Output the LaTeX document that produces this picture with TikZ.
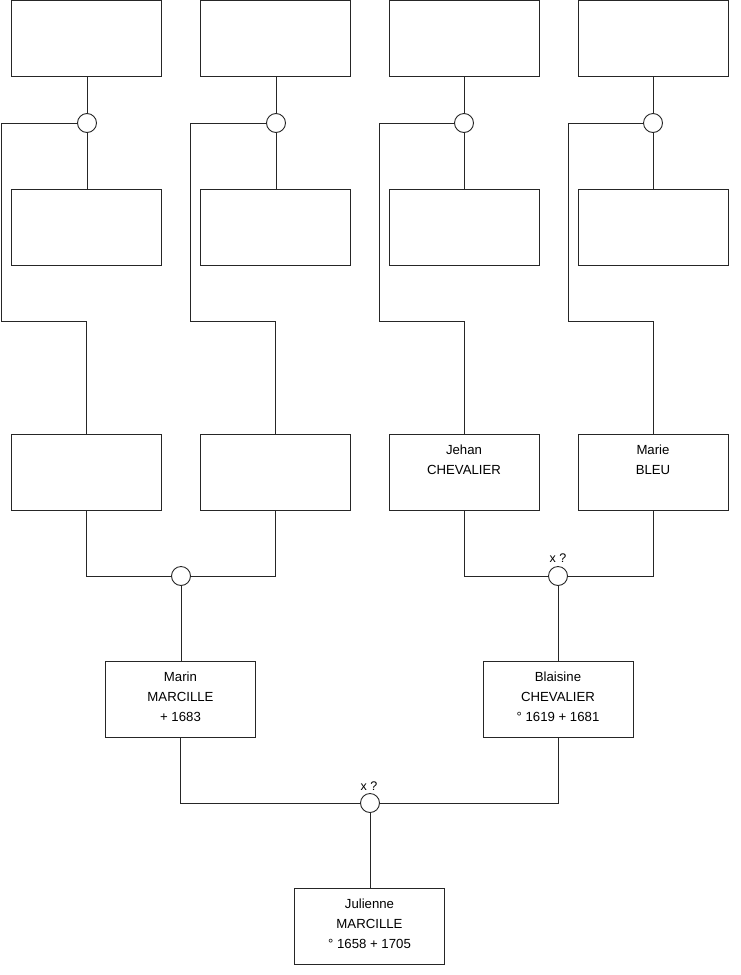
\documentclass[tikz,border=0pt]{standalone}
\usepackage{fontspec}
\setmainfont{Liberation Sans}
\begin{document}
\begin{tikzpicture}[x=1pt,y=-1pt,
  person/.style={draw=black!85,line width=0.9pt,minimum width=150pt,minimum height=76pt,inner sep=0pt,fill=white},
  union/.style={draw=black!85,line width=0.9pt,circle,minimum size=19pt,inner sep=0pt,fill=white},
  link/.style={draw=black!85,line width=0.9pt},
  lbl/.style={font=\fontsize{13.2}{20}\selectfont,align=center,anchor=north,inner sep=0pt}
]
\useasboundingbox (0,0) rectangle (740,975);
% top row
\foreach \i/\x in {1/86,2/275,3/464,4/653}{
  \node[person] (t\i) at (\x,38) {};
  \node[person] (m\i) at (\x,227) {};
  \node[person] (g\i) at (\x,472.5) {};
}
\node[union] (c1) at (87,123) {};
\node[union] (c2) at (276,123) {};
\node[union] (c3) at (464,123) {};
\node[union] (c4) at (653,123) {};
\coordinate (a1) at (1,321);
\coordinate (a2) at (190,321);
\coordinate (a3) at (379,321);
\coordinate (a4) at (568,321);
\node[union] (cm1) at (181,576) {};
\node[union] (cm2) at (558,576) {};
\node[person] (marin) at (180.5,699) {};
\node[person] (blaisine) at (558,699) {};
\node[union] (cj) at (370,803) {};
\node[person] (julienne) at (369.5,926) {};
% texts
\node[lbl] (tg3) at (464,445) {Jehan\\CHEVALIER};
\node[lbl] (tg4) at (653,445) {Marie\\BLEU};
\node[lbl] (tmarin) at (180.5,672) {Marin\\MARCILLE\\+ 1683};
\node[lbl] (tblaisine) at (558,672) {Blaisine\\CHEVALIER\\° 1619 + 1681};
\node[lbl] (tjulienne) at (369.5,899) {Julienne\\MARCILLE\\° 1658 + 1705};
\node[font=\fontsize{12.5}{14}\selectfont,inner sep=0pt] (x1) at (558,558) {x ?};
\node[font=\fontsize{12.5}{14}\selectfont,inner sep=0pt] (x2) at (369,786) {x ?};
% connectors
\foreach \i in {1,2,3,4}{
  \draw[link] (t\i.south -| c\i.north) -- (c\i.north);
  \draw[link] (c\i.south) -- (m\i.north -| c\i.south);
  \draw[link] (c\i.west) -| (a\i) -- (g\i.north |- a\i) -- (g\i.north);
}
\draw[link] (g1.south) |- (cm1.west);
\draw[link] (g2.south) |- (cm1.east);
\draw[link] (g3.south) |- (cm2.west);
\draw[link] (g4.south) |- (cm2.east);
\draw[link] (cm1.south) -- (marin.north -| cm1.south);
\draw[link] (cm2.south) -- (blaisine.north);
\draw[link] (marin.south) |- (cj.west);
\draw[link] (blaisine.south) |- (cj.east);
\draw[link] (cj.south) -- (julienne.north -| cj.south);
\end{tikzpicture}
\end{document}
